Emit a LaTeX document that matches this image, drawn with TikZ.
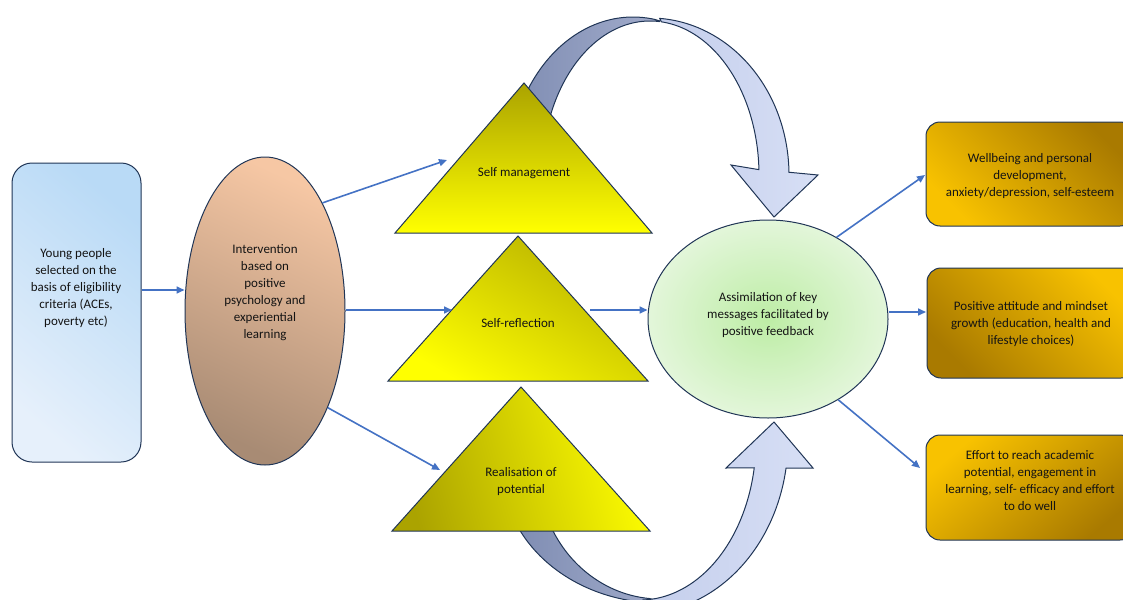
\documentclass[tikz,border=0pt]{standalone}
\usepackage{fontspec}
\setmainfont{Carlito}
\usetikzlibrary{arrows.meta,shapes.geometric}
\definecolor{edge}{HTML}{203556}
\definecolor{conblue}{HTML}{4472C4}
\definecolor{txt}{HTML}{141414}
\definecolor{lbA}{HTML}{B9DAF6}
\definecolor{lbB}{HTML}{E6F0FB}
\definecolor{peachA}{HTML}{F6C7A4}
\definecolor{peachB}{HTML}{A88B74}
\definecolor{olive}{HTML}{ABA300}
\definecolor{yel}{HTML}{FFFF00}
\definecolor{greenIn}{HTML}{BDEDA5}
\definecolor{greenOut}{HTML}{E3F6DA}
\definecolor{goldA}{HTML}{F8C200}
\definecolor{goldB}{HTML}{A97A00}
\definecolor{darkA}{HTML}{7E8CB2}
\definecolor{darkB}{HTML}{A2ACCB}
\definecolor{lightA}{HTML}{C4CEEC}
\definecolor{lightB}{HTML}{D7DFF5}
\begin{document}
\begin{tikzpicture}[x=1pt,y=-1pt,
  shapeline/.style={draw=edge, line width=1pt},
  lbl/.style={align=center, font=\fontsize{13}{17}\selectfont, text=txt, inner sep=0pt},
  conn/.style={draw=conblue, line width=1.6pt, -{Triangle[length=8pt,width=7pt]}},
  band/.style={draw=edge, line width=1pt},
  goldbox/.style={shapeline, rounded corners=14pt, minimum width=208pt, inner sep=0pt}]
\useasboundingbox (0,0) rectangle (1123,599);
\clip (0,0) rectangle (1123,599);

% ---- curved arrows (drawn first, behind the triangles) ----
\draw[band, left color=darkA, right color=darkB]
  plot[domain=170:280, samples=60] ({633+125*cos(\x)},{175+158*sin(\x)})
  -- (660,21)
  -- plot[domain=275:170, samples=60] ({650+108*cos(\x)},{175+154*sin(\x)}) -- cycle;
\draw[band, left color=lightA, right color=lightB]
  plot[domain=274:359, samples=60] ({650+139*cos(\x)},{175+157*sin(\x)})
  -- (818,175) -- (774,217) -- (731,165)
  -- plot[domain=358:276, samples=60] ({650+109*cos(\x)},{175+154*sin(\x)}) -- cycle;

\draw[band, left color=darkA, right color=darkB]
  plot[domain=160:88, samples=60] ({660+158*cos(\x)},{468+135*sin(\x)})
  -- plot[domain=95:160, samples=60] ({660+122*cos(\x)},{468+131*sin(\x)}) -- cycle;
\draw[band, left color=lightA, right color=lightB]
  plot[domain=88:10, samples=60] ({640+116*cos(\x)},{440+160*sin(\x)})
  -- (726,468) -- (774,422) -- (813,468)
  -- plot[domain=9.3:80, samples=60] ({640+148*cos(\x)},{440+173.5*sin(\x)}) -- cycle;

% ---- left box and intervention ellipse ----
\node[shapeline, rounded corners=20pt, minimum width=129pt, minimum height=299pt,
      top color=lbA, bottom color=lbB, shading angle=-40] (src) at (76.5,312.5) {};
\node[lbl] (srct) at (76,288) {Young people\\selected on the\\basis of eligibility\\criteria  (ACEs,\\poverty etc)};

\node[shapeline, ellipse, inner sep=0pt, minimum width=160pt, minimum height=308pt,
      top color=peachA, bottom color=peachB, shading angle=-25] (int) at (265,311) {};
\node[lbl] (intt) at (265,293) {Intervention\\based on\\positive\\psychology and\\experiential\\learning};

% ---- triangles ----
\coordinate (t1a) at (524,83);  \coordinate (t1l) at (395,233); \coordinate (t1r) at (652,233);
\coordinate (t2a) at (518,236); \coordinate (t2l) at (388,381); \coordinate (t2r) at (648,381);
\coordinate (t3a) at (521,387); \coordinate (t3l) at (392,531); \coordinate (t3r) at (650,531);
\draw[shapeline, top color=olive, middle color=yel!88!olive, bottom color=yel] (t1a) -- (t1r) -- (t1l) -- cycle;
\draw[shapeline, top color=olive!85!yel, middle color=yel!90!olive, bottom color=yel, shading angle=-30] (t2a) -- (t2r) -- (t2l) -- cycle;
\draw[shapeline, top color=olive, middle color=yel!92!olive, bottom color=yel, shading angle=105] (t3a) -- (t3r) -- (t3l) -- cycle;
\node[lbl] (t1t) at (524,173) {Self management};
\node[lbl] (t2t) at (518,323) {Self-reflection};
\node[lbl] (t3t) at (521,482) {Realisation of\\potential};

% ---- assimilation ellipse ----
\node[shapeline, ellipse, inner sep=0pt, minimum width=240pt, minimum height=198pt,
      inner color=greenIn, outer color=greenOut] (asm) at (768,319) {};
\node[lbl] (asmt) at (768,315) {Assimilation of key\\messages facilitated by\\positive feedback};

% ---- outcome boxes ----
\node[goldbox, minimum height=104pt, top color=goldB, bottom color=goldA, shading angle=-45] (o1) at (1030,174) {};
\node[goldbox, minimum height=110pt, top color=goldA, bottom color=goldB, shading angle=-45] (o2) at (1031,323) {};
\node[goldbox, minimum height=105pt, top color=goldA, bottom color=goldB, shading angle=40] (o3) at (1030,487.5) {};
\node[lbl] (o1t) at (1030,176.5) {Wellbeing and personal\\development,\\anxiety/depression, self-esteem};
\node[lbl] (o2t) at (1031,324) {Positive attitude and mindset\\growth (education, health and\\lifestyle choices)};
\node[lbl] (o3t) at (1030,481) {Effort to reach academic\\potential, engagement in\\learning, self- efficacy and effort\\to do well};

% ---- connectors ----
\coordinate (c0) at (0,290);
\coordinate (t1in) at (447,160);
\coordinate (t2in) at (452,310);
\coordinate (t3in) at (440,470);
\coordinate (t2out) at (590,310);
\coordinate (o1in) at (925,175);
\coordinate (o2in) at (926,312);
\coordinate (o3in) at (920,468);
\draw[conn] (src.east |- c0) -- (int.west |- c0);
\draw[conn] (int.62) -- (t1in);
\draw[conn] (int.east |- t2in) -- (t2in);
\draw[conn] (int.-57) -- (t3in);
\draw[conn] (t2out) -- (asm.west |- t2out);
\draw[conn] (asm.50) -- (o1in);
\draw[conn] (asm.east |- o2in) -- (o2in);
\draw[conn] (asm.-49) -- (o3in);
\end{tikzpicture}
\end{document}
